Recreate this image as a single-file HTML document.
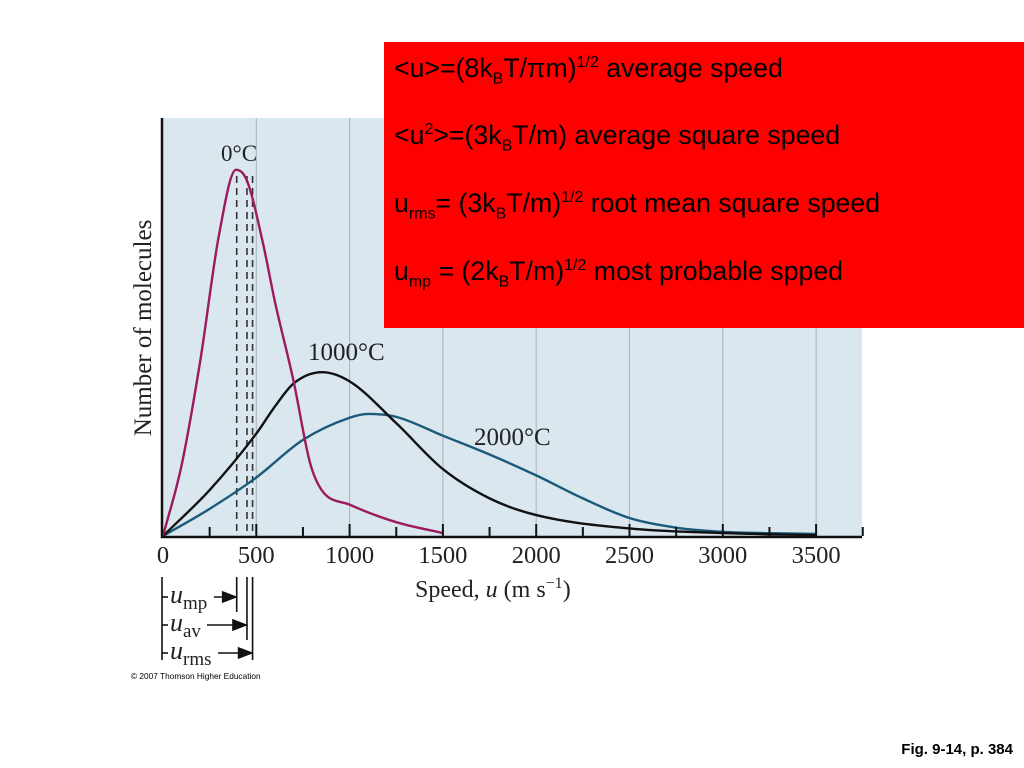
<!DOCTYPE html>
<html><head><meta charset="utf-8"><style>
html,body{margin:0;padding:0;background:#fff;width:1024px;height:768px;overflow:hidden}
svg{position:absolute;left:0;top:0}
.serif{font-family:"Liberation Serif",serif}
#box{position:absolute;left:384px;top:42px;width:640px;height:286px;background:#ff0000;font-family:"Liberation Sans",sans-serif;font-size:26.7px;color:#000}
#box div{position:absolute;left:10px;white-space:nowrap}
sub,sup{font-size:16px;line-height:0}
#fig{position:absolute;right:11px;top:741px;font:bold 15px "Liberation Sans",sans-serif}
#copy{position:absolute;left:131px;top:671px;font:8.3px "Liberation Sans",sans-serif}
</style></head><body>
<svg id="chart" width="1024" height="768"></svg>
<div id="box">
<div style="top:11px">&lt;u&gt;=(8k<sub>B</sub>T/πm)<sup>1/2</sup> average speed</div>
<div style="top:78px">&lt;u<sup>2</sup>&gt;=(3k<sub>B</sub>T/m) average square speed</div>
<div style="top:146px">u<sub>rms</sub>= (3k<sub>B</sub>T/m)<sup>1/2</sup> root mean square speed</div>
<div style="top:214px">u<sub>mp</sub> = (2k<sub>B</sub>T/m)<sup>1/2</sup> most probable spped</div>
</div>
<div id="copy">© 2007 Thomson Higher Education</div>
<div id="fig">Fig. 9-14, p. 384</div>
<script>
const xTicks=[0,500,1000,1500,2000,2500,3000,3500];
const speeds0=[0,100,200,300,391,450,536,600,700,788,850,1000,1250,1500];
const vals0=[0,17,42,72,87.6,85,70,56,37,17.5,11,7.5,3.3,0.7];
const speeds1000=[0,250,500,600,700,852,1000,1250,1500,1750,2000,2500,3000,3500];
const vals1000=[0,11,24.5,31,36.5,39.2,37,27,16,9,5,1.8,0.7,0.2];
const speeds2000=[0,250,500,750,1000,1100,1250,1500,1750,2000,2250,2500,2750,3000,3500];
const vals2000=[0,6.5,14,23,28.3,29.2,28.5,24,19.5,14.5,9,4.3,2,1,0.5];
const markers=[395,450,480];
const markerNames=['u-mp','u-av','u-rms'];
const NS='http://www.w3.org/2000/svg';
const svg=document.getElementById('chart');
const X0=163,PX=93.3/500,Y0=536,PY=4.18;
const sx=v=>X0+v*PX, sy=v=>Y0-v*PY;
function mk(t,a,p){const e=document.createElementNS(NS,t);for(const k in a)e.setAttribute(k,a[k]);(p||svg).appendChild(e);return e;}
const bg=mk('rect',{x:163,y:118,width:699,height:418,fill:'#dae7ee'});


xTicks.forEach(t=>{if(t===0)return;const g=mk('line',{x1:sx(t),x2:sx(t),y1:118,y2:536,stroke:'#a9b4ba','stroke-width':1});

});
markers.forEach((m,i)=>{const d=mk('line',{x1:sx(m),x2:sx(m),y1:176,y2:536,stroke:'#333','stroke-width':1.6,'stroke-dasharray':'7,5'});

});
function curve(xs,ys,color,name){
const P=xs.map((x,i)=>[sx(x),sy(ys[i])]);const n=P.length;
const dl=[],m=[];
for(let i=0;i<n-1;i++)dl.push((P[i+1][1]-P[i][1])/(P[i+1][0]-P[i][0]));
m[0]=dl[0];m[n-1]=dl[n-2];
for(let i=1;i<n-1;i++){m[i]=(dl[i-1]*dl[i]<=0)?0:(dl[i-1]+dl[i])/2;}
for(let i=0;i<n-1;i++){if(dl[i]===0){m[i]=m[i+1]=0;continue;}const a=m[i]/dl[i],b=m[i+1]/dl[i],s=a*a+b*b;if(s>9){const t=3/Math.sqrt(s);m[i]=t*a*dl[i];m[i+1]=t*b*dl[i];}}
let d='M'+P[0][0]+','+P[0][1];
for(let i=0;i<n-1;i++){const h=(P[i+1][0]-P[i][0])/3;
d+=' C'+(P[i][0]+h)+','+(P[i][1]+m[i]*h)+' '+(P[i+1][0]-h)+','+(P[i+1][1]-m[i+1]*h)+' '+P[i+1][0]+','+P[i+1][1];}
const e=mk('path',{d:d,fill:'none',stroke:color,'stroke-width':2.4});

}
curve(speeds2000,vals2000,'#1b5a7a','curve-2000c');
curve(speeds1000,vals1000,'#111','curve-1000c');
curve(speeds0,vals0,'#9c1a5e','curve-0c');
const ax=mk('path',{d:'M162,118 V537 H862',fill:'none',stroke:'#111','stroke-width':2.5});


for(let t=250;t<=3750;t+=250){const tk=mk('line',{x1:sx(t),x2:sx(t),y1:t%500?527:524,y2:536,stroke:'#111','stroke-width':2});

}
xTicks.forEach(t=>{const l=mk('text',{x:sx(t),y:563,'text-anchor':'middle','font-size':24.5,class:'serif',fill:'#222'});l.textContent=t;

});
function txt(s,x,y,sz,name,extra){const e=mk('text',Object.assign({x:x,y:y,'font-size':sz,class:'serif',fill:'#222'},extra||{}));e.innerHTML=s;

return e;}
txt('0°C',221,161,23,'label-0c');
txt('1000°C',308,360,25,'label-1000c');
txt('2000°C',474,445,25,'label-2000c');
txt('Speed, <tspan font-style="italic">u</tspan> (m s<tspan dy="-9" font-size="16">−1</tspan><tspan dy="9">)</tspan>',415,597,24,'x-axis-title');
txt('Number of molecules',0,0,25,'y-axis-title',{transform:'translate(151,328) rotate(-90)','text-anchor':'middle'});
const ann=mk('g',{stroke:'#111','stroke-width':1.6,fill:'none'});


mk('line',{x1:162,x2:162,y1:577,y2:660},ann);
const rows=[597,625,653],ends=[612,640,660],starts=[214,207,218];
markers.forEach((m,i)=>{mk('line',{x1:sx(m),x2:sx(m),y1:577,y2:ends[i]},ann);
mk('line',{x1:162,x2:168,y1:rows[i],y2:rows[i]},ann);
mk('line',{x1:starts[i],x2:sx(m)-2,y1:rows[i],y2:rows[i]},ann);
mk('path',{d:`M${sx(m)-14},${rows[i]-5} L${sx(m)-1},${rows[i]} L${sx(m)-14},${rows[i]+5}Z`,fill:'#111'},ann);});
txt('<tspan font-style="italic" font-size="26">u</tspan><tspan font-size="19" dy="6">mp</tspan>',170,603,26,'label-u-mp');
txt('<tspan font-style="italic" font-size="26">u</tspan><tspan font-size="19" dy="6">av</tspan>',170,631,26,'label-u-av');
txt('<tspan font-style="italic" font-size="26">u</tspan><tspan font-size="19" dy="6">rms</tspan>',170,659,26,'label-u-rms');
</script>
</body></html>
